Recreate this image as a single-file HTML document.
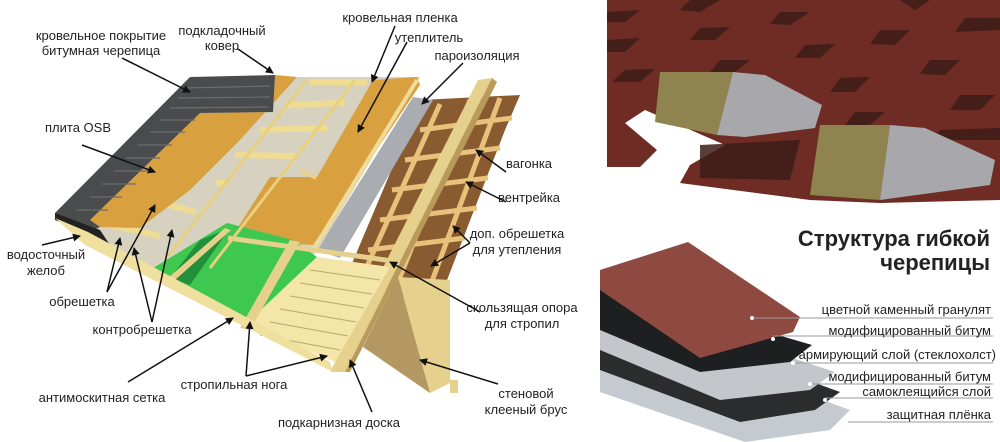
<!DOCTYPE html>
<html><head><meta charset="utf-8"><style>
html,body{margin:0;padding:0;background:#fff;}
svg{display:block;}
text{font-family:"Liberation Sans",sans-serif;fill:#222;}
</style></head><body>
<svg width="1000" height="442" viewBox="0 0 1000 442" xmlns="http://www.w3.org/2000/svg">
<defs>
<marker id="ah" markerWidth="8" markerHeight="8" refX="7" refY="4" orient="auto" markerUnits="userSpaceOnUse"><path d="M0,0 L8,4 L0,8 z" fill="#111"/></marker>
</defs>
<rect width="1000" height="442" fill="#fff"/>

<!-- ===== LEFT DIAGRAM ===== -->
<!-- wood grid (vagonka) -->
<polygon points="421,100 520,95 505,130 437,306 345,280" fill="#8a5a30"/>
<g stroke="#e8c27a" stroke-width="5">
<line x1="440" y1="104" x2="360" y2="282"/>
<line x1="470" y1="100" x2="395" y2="290"/>
<line x1="500" y1="98" x2="425" y2="300"/>
<line x1="420" y1="130" x2="512" y2="118"/>
<line x1="405" y1="160" x2="500" y2="148"/>
<line x1="392" y1="190" x2="488" y2="178"/>
<line x1="380" y1="220" x2="477" y2="208"/>
<line x1="368" y1="250" x2="465" y2="238"/>
</g>
<!-- vertical rafter beam right -->
<polygon points="478,80 492,78 345,372 330,372" fill="#e6d08e"/>
<polygon points="492,78 497,82 350,372 345,372" fill="#b89a5a"/>
<!-- vapor barrier -->
<polygon points="413,97 433,100 340,258 317,250" fill="#a9acb0"/>
<!-- roof base light gray -->
<polygon points="190,77 420,77 318,250 250,330 150,270 55,213" fill="#d6d2bf"/>
<!-- orange right panel (insulation) -->
<polygon points="373,80 417,77 420,85 313,245 230,240 270,177 317,177" fill="#d9a040"/>
<line x1="417" y1="80" x2="313" y2="250" stroke="#f0dc9a" stroke-width="4"/>
<!-- green membrane -->
<polygon points="227,223 293,240 317,257 247,323 150,270" fill="#3fc850"/>
<polygon points="200,240 230,228 190,285 170,278" fill="#22903a"/>
<!-- cream planks -->
<polygon points="317,257 390,267 335,362 247,323" fill="#f3e6a8"/>
<g stroke="#b8a870" stroke-width="1">
<line x1="310" y1="270" x2="380" y2="280"/><line x1="300" y1="283" x2="372" y2="294"/>
<line x1="290" y1="296" x2="364" y2="308"/><line x1="280" y1="309" x2="356" y2="322"/>
<line x1="270" y1="322" x2="348" y2="336"/><line x1="260" y1="335" x2="340" y2="350"/>
</g>
<!-- rafter planks crossing -->
<polygon points="290,240 300,242 250,330 240,328" fill="#e6d08e"/>
<polygon points="225,228 231,230 175,280 168,278" fill="#e6d08e"/>
<line x1="228" y1="238" x2="400" y2="262" stroke="#e6d08e" stroke-width="5"/>
<line x1="300" y1="170" x2="316" y2="178" stroke="#e6d08e" stroke-width="4"/>
<!-- battens -->
<g stroke="#f0dc90" stroke-width="6">
<line x1="310" y1="82" x2="367" y2="82"/>
<line x1="285" y1="105" x2="345" y2="103"/>
<line x1="260" y1="130" x2="327" y2="128"/>
<line x1="235" y1="155" x2="297" y2="156"/>
<line x1="216" y1="183" x2="228" y2="183"/>
<line x1="130" y1="195" x2="195" y2="212"/>
<line x1="100" y1="223" x2="160" y2="236"/>
</g>
<g stroke="#e8cf80" stroke-width="3">
<line x1="307" y1="80" x2="168" y2="256"/>
<line x1="355" y1="80" x2="210" y2="268"/>
</g>
<!-- OSB -->
<polygon points="275,75 297,77 240,140 190,190 140,228 100,227 90,220 200,113 273,112" fill="#d9a040"/>
<!-- shingles -->
<polygon points="190,77 275,75 273,112 200,113 90,220 100,227 88,232 55,218 55,213" fill="#4a4b4c"/>
<g stroke="#6b6c6c" stroke-width="1.2">
<line x1="185" y1="88" x2="270" y2="86"/><line x1="178" y1="98" x2="270" y2="97"/>
<line x1="170" y1="108" x2="268" y2="107"/><line x1="160" y1="120" x2="195" y2="120"/>
<line x1="150" y1="132" x2="185" y2="132"/><line x1="138" y1="145" x2="172" y2="145"/>
<line x1="126" y1="158" x2="160" y2="158"/><line x1="114" y1="171" x2="148" y2="171"/>
<line x1="102" y1="184" x2="136" y2="184"/><line x1="90" y1="197" x2="122" y2="197"/>
<line x1="76" y1="210" x2="108" y2="210"/>
</g>
<!-- gutter -->
<polygon points="55,213 100,230 110,245 96,245 85,232 55,220" fill="#222"/>
<!-- wall triangle -->
<polygon points="398,277 450,280 450,383 430,393" fill="#e6d08e"/>
<polygon points="398,277 430,393 363,347" fill="#b39862"/>
<rect x="450" y="380" width="8" height="13" fill="#e6d08e"/>
<!-- eave board -->
<polygon points="55,218 88,232 330,362 333,372 85,245" fill="#efe0a0"/>

<!-- arrows -->
<g stroke="#111" stroke-width="1.5" fill="none" marker-end="url(#ah)">
<line x1="122" y1="58" x2="190" y2="92"/>
<line x1="238" y1="49" x2="273" y2="73"/>
<line x1="395" y1="26" x2="372" y2="82"/>
<line x1="407" y1="42" x2="358" y2="132"/>
<line x1="463" y1="63" x2="422" y2="104"/>
<line x1="82" y1="145" x2="155" y2="172"/>
<line x1="506" y1="172" x2="476" y2="150"/>
<line x1="506" y1="202" x2="466" y2="182"/>
<line x1="470" y1="243" x2="453" y2="226"/>
<line x1="470" y1="243" x2="431" y2="266"/>
<line x1="42" y1="245" x2="80" y2="236"/>
<line x1="480" y1="312" x2="390" y2="262"/>
<line x1="107" y1="292" x2="120" y2="238"/>
<line x1="107" y1="292" x2="155" y2="205"/>
<line x1="152" y1="322" x2="134" y2="248"/>
<line x1="152" y1="322" x2="172" y2="230"/>
<line x1="128" y1="382" x2="233" y2="318"/>
<line x1="246" y1="376" x2="250" y2="322"/>
<line x1="246" y1="376" x2="327" y2="356"/>
<line x1="372" y1="412" x2="350" y2="360"/>
<line x1="498" y1="384" x2="420" y2="360"/>
</g>

<!-- labels -->
<g font-size="13" text-anchor="middle">
<text x="101" y="40">кровельное покрытие</text>
<text x="101" y="55">битумная черепица</text>
<text x="222" y="35">подкладочный</text>
<text x="222" y="50">ковер</text>
<text x="400" y="22">кровельная пленка</text>
<text x="429" y="42">утеплитель</text>
<text x="477" y="60">пароизоляция</text>
<text x="78" y="132">плита OSB</text>
<text x="529" y="168">вагонка</text>
<text x="529" y="202">вентрейка</text>
<text x="517" y="238">доп. обрешетка</text>
<text x="517" y="254">для утепления</text>
<text x="46" y="259">водосточный</text>
<text x="46" y="275">желоб</text>
<text x="522" y="312">скользящая опора</text>
<text x="522" y="328">для стропил</text>
<text x="82" y="306">обрешетка</text>
<text x="142" y="334">контробрешетка</text>
<text x="234" y="389">стропильная нога</text>
<text x="102" y="402">антимоскитная сетка</text>
<text x="526" y="398">стеновой</text>
<text x="526" y="414">клееный брус</text>
<text x="339" y="427">подкарнизная доска</text>
</g>

<!-- ===== RIGHT TOP PHOTO ===== -->
<polygon points="607,0 1000,0 1000,200 880,203 810,200 680,183 690,165 725,145 645,110 625,123 657,150 640,167 607,167" fill="#6e2c24"/>
<g fill="#3d1c17" opacity="0.85">
<polygon points="690,0 720,0 700,12 680,10"/>
<polygon points="607,12 640,10 625,22 607,22"/>
<polygon points="780,12 810,12 790,25 770,24"/>
<polygon points="900,0 930,0 915,10"/>
<polygon points="965,18 1000,18 1000,30 955,32"/>
<polygon points="700,28 730,27 715,40 690,40"/>
<polygon points="607,40 640,38 625,52 607,52"/>
<polygon points="880,30 910,30 895,45 870,44"/>
<polygon points="805,45 835,44 820,58 795,58"/>
<polygon points="720,60 750,60 735,72 710,72"/>
<polygon points="930,60 960,60 945,75 920,74"/>
<polygon points="625,70 655,69 640,82 612,82"/>
<polygon points="840,78 870,77 855,92 830,92"/>
<polygon points="960,95 995,95 980,110 950,110"/>
<polygon points="855,112 885,112 870,125 845,125"/>
<polygon points="940,130 1000,128 1000,140 930,140"/>
<polygon points="700,145 800,140 790,180 700,178"/>
</g>
<!-- pieces -->
<polygon points="660,72 733,72 717,135 655,122" fill="#8f8350"/>
<polygon points="733,72 765,75 822,105 815,128 745,137 717,135" fill="#a8a8ac"/>
<polygon points="820,125 890,125 880,200 810,195" fill="#8f8350"/>
<polygon points="890,125 925,128 995,160 990,185 880,200" fill="#a8a8ac"/>

<!-- ===== RIGHT BOTTOM ===== -->
<text x="990" y="246" font-size="22" font-weight="bold" text-anchor="end" fill="#222">Структура гибкой</text>
<text x="990" y="270" font-size="22" font-weight="bold" text-anchor="end" fill="#222">черепицы</text>

<polygon points="600,318 850,410 830,430 745,442 600,392" fill="#c4cacf"/>
<polygon points="600,305 840,392 815,410 740,422 600,370" fill="#2a2c2e"/>
<polygon points="600,295 835,372 810,390 720,400 600,350" fill="#c3c7cb"/>
<polygon points="600,283 812,345 790,362 700,372 600,330" fill="#1e1f20"/>
<polygon points="600,270 688,242 800,317 793,332 700,358 600,290" fill="#8e4a40"/>

<g stroke="#999" stroke-width="1">
<line x1="752" y1="318" x2="993" y2="318"/>
<line x1="773" y1="336" x2="993" y2="336"/>
<line x1="793" y1="363" x2="993" y2="363"/>
<line x1="810" y1="384" x2="993" y2="384"/>
<line x1="825" y1="398" x2="993" y2="398"/>
<line x1="846" y1="422" x2="993" y2="422"/>
</g>
<g fill="#fff"><circle cx="752" cy="318" r="2"/><circle cx="773" cy="339" r="2"/><circle cx="793" cy="363" r="2"/><circle cx="810" cy="384" r="2"/><circle cx="825" cy="400" r="2"/><circle cx="846" cy="422" r="2"/></g>
<g font-size="13" text-anchor="end">
<text x="991" y="314">цветной каменный гранулят</text>
<text x="991" y="335">модифицированный битум</text>
<text x="996" y="359">армирующий слой (стеклохолст)</text>
<text x="991" y="381">модифицированный битум</text>
<text x="991" y="396">самоклеящийся слой</text>
<text x="991" y="419">защитная плёнка</text>
</g>
</svg>
</body></html>
